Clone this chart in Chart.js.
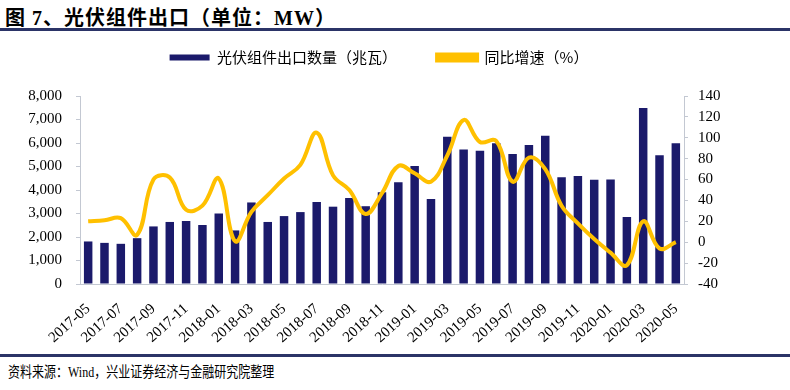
<!DOCTYPE html>
<html>
<head>
<meta charset="utf-8">
<script src="https://cdn.jsdelivr.net/npm/chart.js@4"></script>
<style>
  body { margin: 0; width: 790px; height: 390px; background: #fff; position: relative; overflow: hidden; }
  #title { position: absolute; left: 5px; top: 2px; font: bold 20px "Liberation Serif", "Noto Sans CJK SC"; color: #000; letter-spacing: 1px; white-space: nowrap; }
  #topline { position: absolute; left: 0; top: 28px; width: 790px; height: 3px; background: #2B3467; }
  #wrap { position: absolute; left: 0; top: 10px; width: 790px; height: 340px; }
  #botline { position: absolute; left: 0; top: 354px; width: 790px; height: 3px; background: #2B3467; }
  #source { position: absolute; left: 8px; top: 360px; font: 15px "Liberation Serif", "Noto Sans CJK SC"; color: #000; white-space: nowrap; transform: scaleX(0.8); transform-origin: left top; }
</style>
</head>
<body>
<div id="title">图 7、光伏组件出口（单位：MW）</div>
<div id="topline"></div>
<div id="wrap"><canvas id="chart1" width="790" height="340"></canvas></div>
<div id="botline"></div>
<div id="source">资料来源：Wind，兴业证券经济与金融研究院整理</div>
<script>
const months = [
  '2017-05','2017-06','2017-07','2017-08','2017-09','2017-10','2017-11','2017-12',
  '2018-01','2018-02','2018-03','2018-04','2018-05','2018-06','2018-07','2018-08',
  '2018-09','2018-10','2018-11','2018-12','2019-01','2019-02','2019-03','2019-04',
  '2019-05','2019-06','2019-07','2019-08','2019-09','2019-10','2019-11','2019-12',
  '2020-01','2020-02','2020-03','2020-04','2020-05'
];
const exportMW = [
  1810, 1750, 1710, 1950, 2450, 2640, 2680, 2510,
  3000, 2280, 3470, 2640, 2890, 3060, 3490, 3290,
  3660, 3310, 3900, 4330, 5020, 3620, 6270, 5720,
  5670, 5990, 5530, 5920, 6310, 4540, 4600, 4440,
  4450, 2850, 7490, 5480, 5990
];
const yoyPct = [
  20, 21, 23, 7, 60, 62, 31, 35,
  61, 1, 29, 45, 61, 74, 105, 64,
  50, 27, 47, 73, 66, 58, 83, 117,
  96, 97, 58, 81, 70, 35, 18, 3,
  -10, -22, 20, -6, 0
];
const leftTicks = [0, 1000, 2000, 3000, 4000, 5000, 6000, 7000, 8000];
const rightTicks = [-40, -20, 0, 20, 40, 60, 80, 100, 120, 140];

const tickFont = { family: '"Liberation Serif", "Noto Sans CJK SC"', size: 15 };
const axisGray = '#C3C8D2';

// fixed legend band so the plot top lands where the reference has it
const legendBand = {
  id: 'legendBand',
  beforeInit(chart) {
    const fit = chart.legend.fit;
    chart.legend.fit = function () {
      fit.call(this);
      this.height = 86;
    };
  }
};

const ctx = document.getElementById('chart1').getContext('2d');
const chart1 = new Chart(ctx, {
  type: 'bar',
  data: {
    labels: months,
    datasets: [
      {
        label: '光伏组件出口数量（兆瓦）',
        data: exportMW,
        backgroundColor: '#1B1A6B',
        barPercentage: 0.52,
        categoryPercentage: 1,
        yAxisID: 'y',
        order: 1
      },
      {
        type: 'line',
        label: '同比增速（%）',
        data: yoyPct,
        borderColor: '#FFC000',
        backgroundColor: '#FFC000',
        borderWidth: 4,
        pointRadius: 0,
        tension: 0.4,
        yAxisID: 'y1',
        order: 0
      }
    ]
  },
  options: {
    responsive: false,
    animation: false,
    layout: { padding: { left: 20, right: 52, top: 0, bottom: 0 } },
    scales: {
      x: {
        grid: { display: false },
        border: { display: true, color: axisGray, width: 1 },
        ticks: {
          autoSkip: false,
          maxRotation: 42,
          minRotation: 42,
          color: '#000',
          font: tickFont,
          padding: 8,
          callback: function (v, i) { return i % 2 === 0 ? months[i] : ''; }
        },
        afterFit(scale) { scale.height = 66; }
      },
      y: {
        position: 'left',
        min: 0,
        max: 8000,
        grid: { drawOnChartArea: false, color: axisGray, tickLength: 4 },
        border: { display: true, color: axisGray, width: 1 },
        afterBuildTicks(scale) { scale.ticks = leftTicks.map(v => ({ value: v })); },
        ticks: {
          autoSkip: false,
          color: '#000',
          font: tickFont,
          padding: 14,
          callback: v => v.toLocaleString('en-US')
        },
        afterFit(scale) { scale.width = 60; }
      },
      y1: {
        position: 'right',
        min: -40,
        max: 140,
        grid: { drawOnChartArea: false, color: axisGray, tickLength: 4 },
        border: { display: true, color: axisGray, width: 1 },
        afterBuildTicks(scale) { scale.ticks = rightTicks.map(v => ({ value: v })); },
        ticks: { autoSkip: false, color: '#000', font: tickFont, padding: 10 },
        afterFit(scale) { scale.width = 54; }
      }
    },
    plugins: {
      legend: {
        display: true,
        position: 'top',
        labels: {
          boxWidth: 40,
          boxHeight: 6,
          padding: 40,
          color: '#000',
          font: { family: '"Noto Sans CJK SC"', size: 15 },
          sort: (a, b) => a.datasetIndex - b.datasetIndex
        }
      },
      tooltip: { enabled: false }
    }
  },
  plugins: [legendBand]
});
</script>
</body>
</html>
